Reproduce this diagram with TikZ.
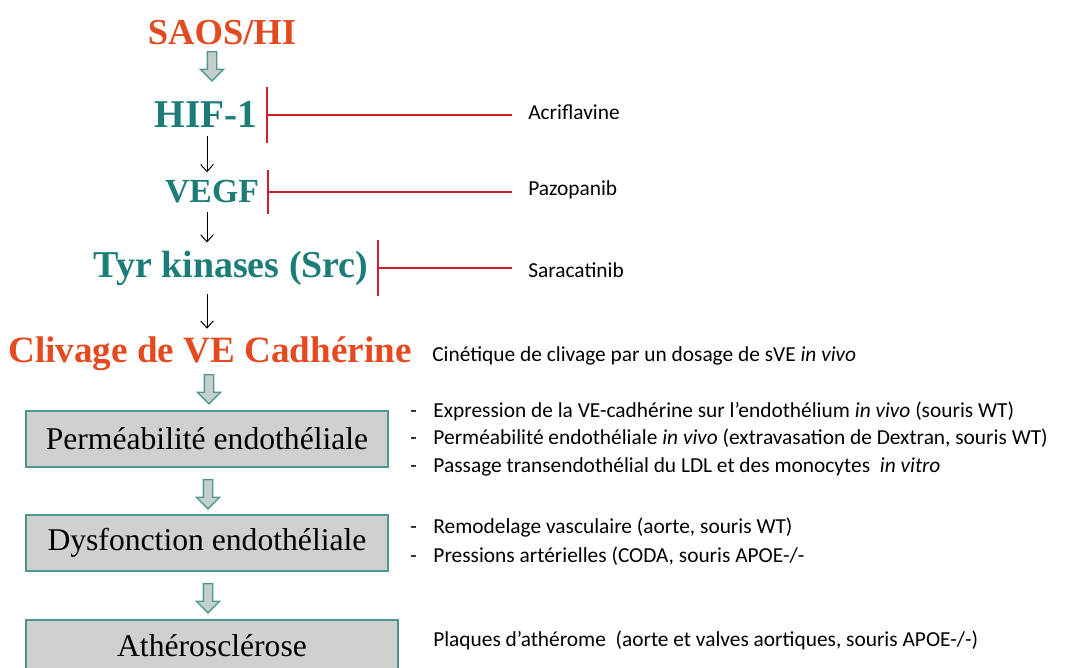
\documentclass[tikz,border=0pt]{standalone}
\usepackage{fontspec}
\setmainfont{Liberation Serif}
\newfontfamily\calib{Carlito}
\usetikzlibrary{arrows.meta,shapes.arrows}

\definecolor{hotred}{RGB}{228,74,32}
\definecolor{tealtxt}{RGB}{28,125,120}
\definecolor{boxteal}{RGB}{78,152,146}
\definecolor{boxgray}{RGB}{208,208,208}
\definecolor{arrgray}{RGB}{198,205,205}
\definecolor{inhred}{RGB}{205,32,45}

\begin{document}
\begin{tikzpicture}[x=0.025cm, y=-0.025cm,
    lab/.style ={font=\fontsize{26}{30}\selectfont\bfseries, text=tealtxt, inner xsep=0.2cm, inner ysep=0.2cm},
    hot/.style ={lab, text=hotred},
    box/.style ={draw=boxteal, line width=1.3pt, fill=boxgray, minimum width=9.05cm, minimum height=1.4cm, font=\fontsize{22.5}{26}\selectfont},
    blk/.style ={single arrow, shape border rotate=270, draw=boxteal, fill=arrgray, line width=1pt, minimum height=0.73cm, inner sep=0.1cm, single arrow head extend=0.175cm, single arrow head indent=0pt},
    arr/.style ={-{Straight Barb[length=5pt,width=9pt]}, line width=0.7pt},
    inh/.style ={draw=inhred, line width=1.3pt, -{Bar[width=#1]}},
    note/.style={font=\calib\fontsize{15.2}{19.5}\selectfont, anchor=west, inner sep=0pt, align=left},
  ]
  \useasboundingbox (0,0) rectangle (1071,668);
  \clip (0,0) rectangle (1071,668);
  \coordinate (axis) at (207,0);

  % cascade
  \node[hot] (saos) at (222,33) {SAOS/HI};
  \node[blk] (a1) at (212,64) {};
  \node[lab, font=\fontsize{28}{32}\selectfont\bfseries] (hif) at (206,115) {HIF-1};
  \node[lab, font=\fontsize{24}{28}\selectfont\bfseries] (vegf) at (212,192) {VEGF};
  \node[lab, font=\fontsize{27}{31}\selectfont\bfseries] (tyr) at (231,268) {Tyr kinases (Src)};
  \node[hot, font=\fontsize{26.4}{31}\selectfont\bfseries] (clivage) at (210,354) {Clivage de VE Cadhérine};
  \draw[arr] (hif.south -| axis) -- (vegf.north -| axis);
  \draw[arr] (vegf.south -| axis) -- (tyr.north -| axis);
  \draw[arr] (tyr.south -| axis) -- (clivage.north -| axis);

  % inhibitors
  \node[note, inner xsep=0.4cm] (acri) at (512,112) {Acriflavine};
  \node[note, inner xsep=0.4cm] (pazo) at (512,190) {Pazopanib};
  \node[note, inner xsep=0.4cm] (sara) at (512,270) {Saracatinib};
  \draw[inh=1.4cm] (hif.east -| acri.west) -- (hif.east);
  \draw[inh=1.1cm] (vegf.east -| pazo.west) -- (vegf.east);
  \draw[inh=1.375cm] (tyr.east -| sara.west) -- (tyr.east);

  % consequences
  \node[blk] (a2) at (209,387) {};
  \node[box] (perm) at (207,439) {Perméabilité endothéliale};
  \node[blk] (a3) at (208,492) {};
  \node[box] (dysf) at (207,543) {Dysfonction endothéliale};
  \node[blk] (a4) at (208,596) {};
  \node[box, minimum width=9.3cm] (athero) at (212,648) {\raisebox{0.15cm}{Athérosclérose}};

  % experiments
  \node[note] (cinet) at (432,356) {Cinétique de clivage par un dosage de sVE \textit{in vivo}};
  \node[note] (exp1) at (410,439)
    {\makebox[16.5pt][l]{-}Expression de la VE-cadhérine sur l’endothélium \textit{in vivo} (souris WT)\\
     \makebox[16.5pt][l]{-}Perméabilité endothéliale \textit{in vivo} (extravasation de Dextran, souris WT)\\
     \makebox[16.5pt][l]{-}Passage transendothélial du LDL et des monocytes \ \textit{in vitro}};
  \node[note, font=\calib\fontsize{15.2}{20.5}\selectfont] (exp2) at (410,541.5)
    {\makebox[16.5pt][l]{-}Remodelage vasculaire (aorte, souris WT)\\
     \makebox[16.5pt][l]{-}Pressions artérielles (CODA, souris APOE-/-};
  \node[note] (plaq) at (433,640) {Plaques d’athérome \ (aorte et valves aortiques, souris APOE-/-)};
\end{tikzpicture}
\end{document}
